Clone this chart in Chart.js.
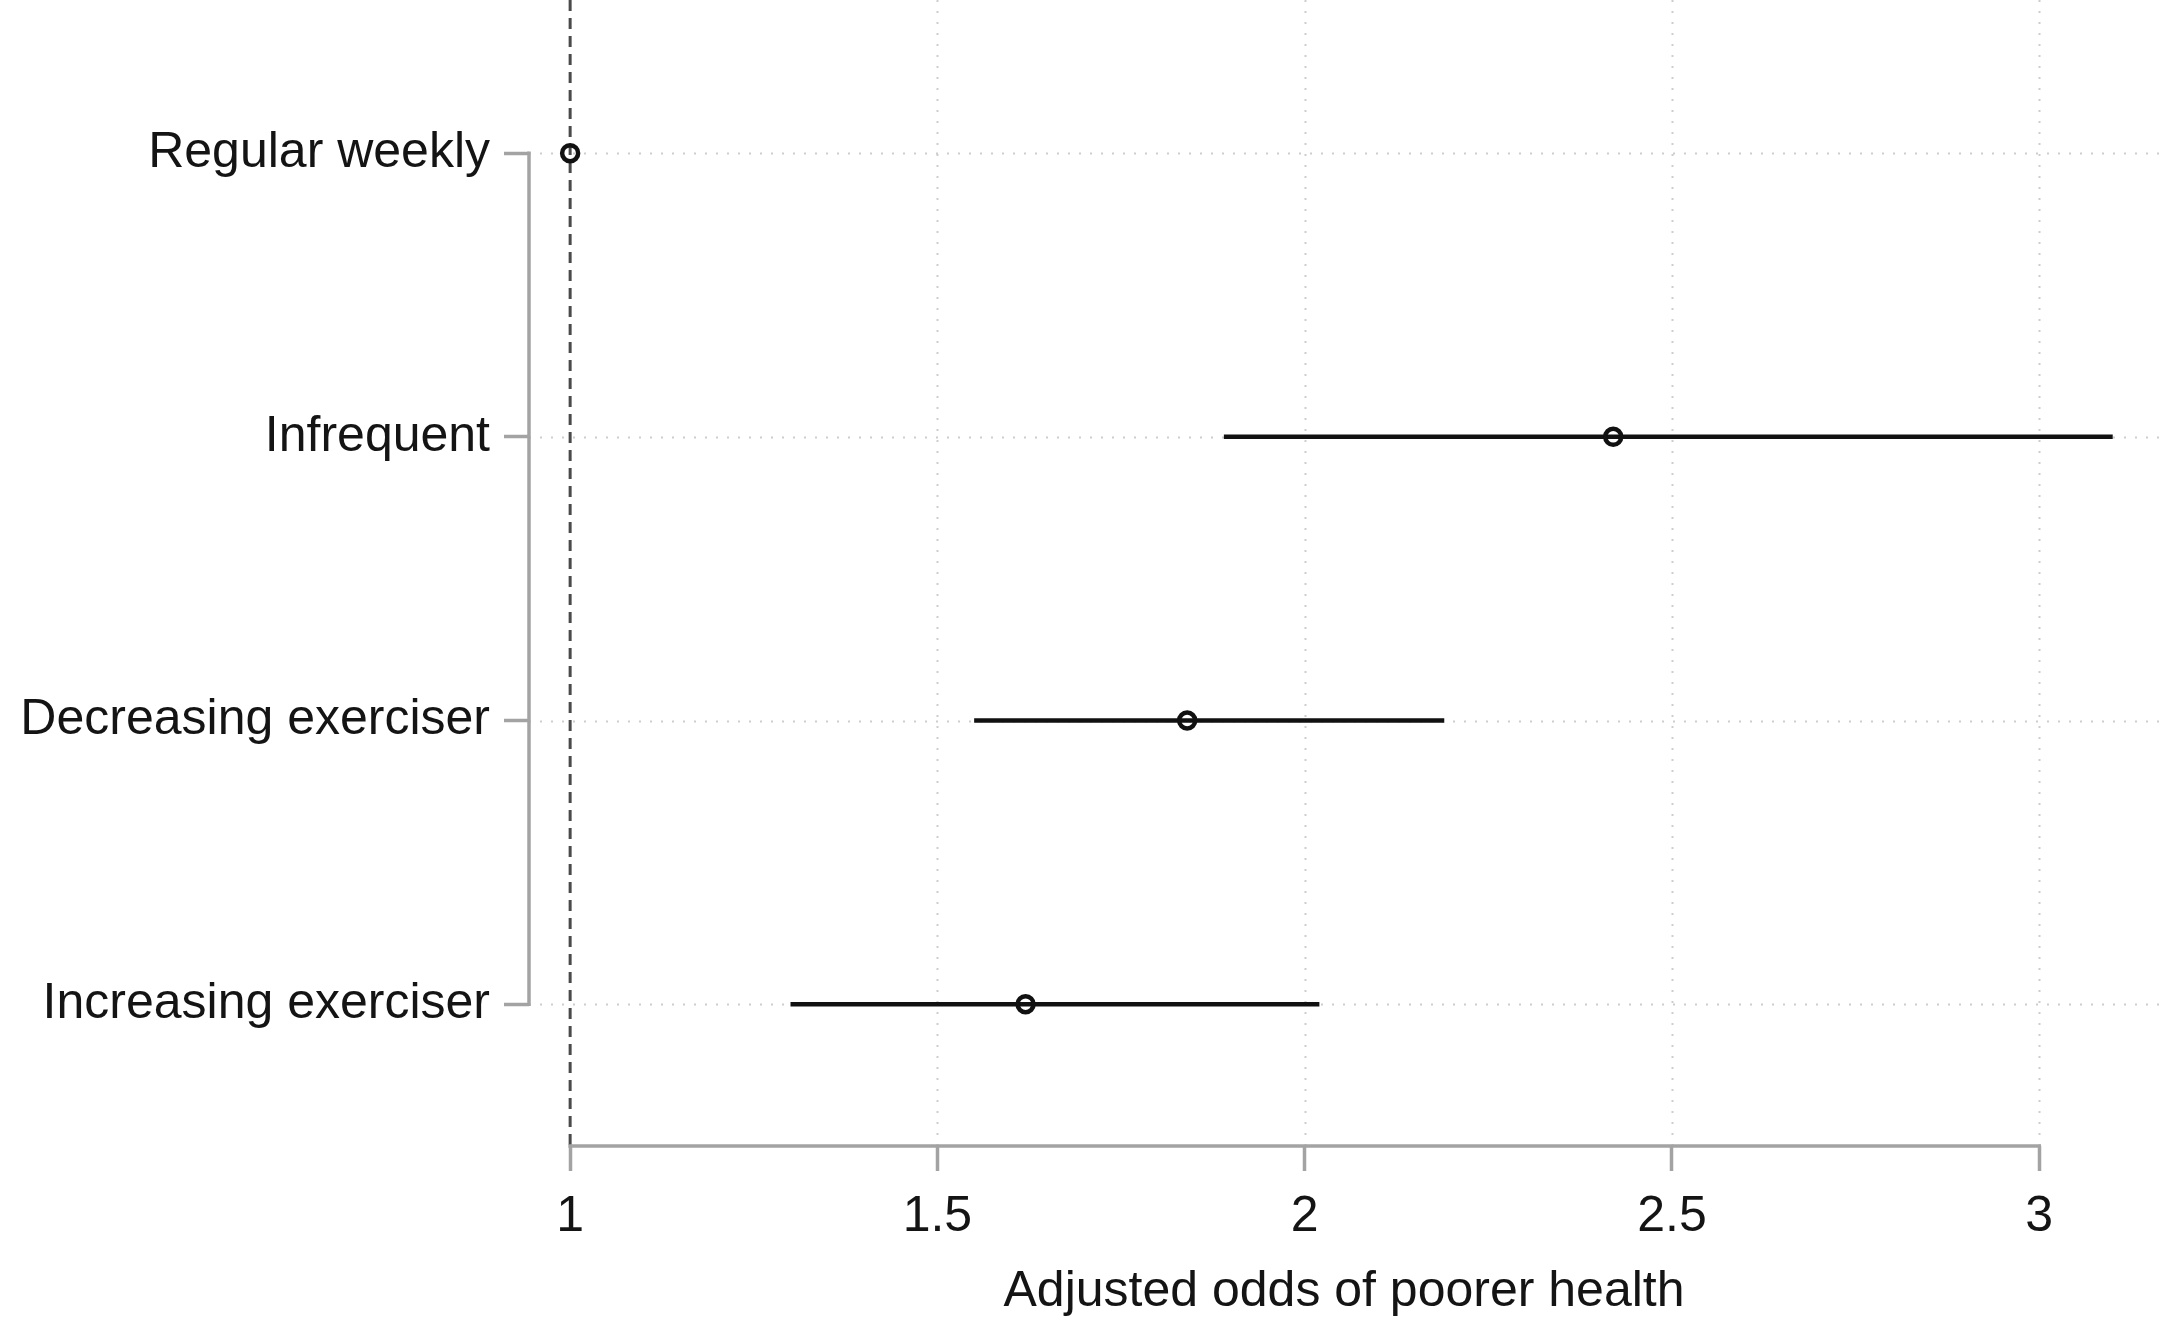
<!DOCTYPE html>
<html>
<head>
<meta charset="utf-8">
<script src="https://cdn.jsdelivr.net/npm/chart.js@4.4.1/dist/chart.umd.min.js"></script>
<style>
  html, body { margin: 0; padding: 0; background: #ffffff; }
  #wrap { width: 2159px; height: 1321px; }
</style>
</head>
<body>
<div id="wrap"><canvas id="c" width="2159" height="1321"></canvas></div>
<script>
// ---- Data ----
const categories = ['Regular weekly', 'Infrequent', 'Decreasing exerciser', 'Increasing exerciser'];
const estimates  = [1.00, 2.42, 1.84, 1.62];
const lowerCI    = [null, 1.89, 1.55, 1.30];
const upperCI    = [null, 3.10, 2.19, 2.02];
const xTickValues = [1, 1.5, 2, 2.5, 3];
const xTickLabels = ['1', '1.5', '2', '2.5', '3'];
const referenceValue = 1;
const xAxisTitle = 'Adjusted odds of poorer health';

// ---- Styling / layout ----
const FONT = "'Liberation Sans', Arial, sans-serif";
const AXIS_GREY = '#a3a3a3';
const GRID_GREY = '#cdcdcd';
const TEXT = '#141414';

const rowPos = categories.map((c, i) => i + 1);

const datasets = [];
categories.forEach((c, i) => {
  if (lowerCI[i] !== null && upperCI[i] !== null) {
    datasets.push({
      type: 'line',
      data: [{x: lowerCI[i], y: rowPos[i]}, {x: upperCI[i], y: rowPos[i]}],
      borderColor: '#111111',
      borderWidth: 4.5,
      pointRadius: 0,
      fill: false,
      order: 2
    });
  }
});
datasets.push({
  type: 'scatter',
  data: estimates.map((v, i) => ({x: v, y: rowPos[i]})),
  pointStyle: 'circle',
  pointRadius: 8,
  pointBorderWidth: 4.5,
  borderColor: '#111111',
  backgroundColor: 'rgba(0,0,0,0)',
  pointBackgroundColor: 'rgba(0,0,0,0)',
  pointBorderColor: '#111111',
  order: 1
});

const decorPlugin = {
  id: 'decor',
  beforeDatasetsDraw(chart) {
    const {ctx, chartArea: a, scales: {x, y}} = chart;
    ctx.save();
    // dotted vertical grid
    ctx.strokeStyle = GRID_GREY;
    ctx.lineWidth = 2;
    ctx.setLineDash([2, 9]);
    xTickValues.forEach(v => {
      if (v === referenceValue) return;
      const px = Math.round(x.getPixelForValue(v)) + 0.5;
      ctx.beginPath(); ctx.moveTo(px, a.top); ctx.lineTo(px, a.bottom); ctx.stroke();
    });
    // dotted horizontal lines at rows
    rowPos.forEach(r => {
      const py = Math.round(y.getPixelForValue(r)) + 0.5;
      ctx.beginPath(); ctx.moveTo(a.left, py); ctx.lineTo(a.right, py); ctx.stroke();
    });
    // reference dashed line
    ctx.strokeStyle = '#4a4a4a';
    ctx.lineWidth = 3;
    ctx.setLineDash([11, 7]);
    const rx = x.getPixelForValue(referenceValue);
    ctx.beginPath(); ctx.moveTo(rx, a.top); ctx.lineTo(rx, a.bottom); ctx.stroke();
    // axis lines (Stata style, spanning tick range)
    ctx.setLineDash([]);
    ctx.strokeStyle = AXIS_GREY;
    ctx.lineWidth = 3.5;
    const x0 = x.getPixelForValue(xTickValues[0]) - 1.75;
    const x1 = x.getPixelForValue(xTickValues[xTickValues.length - 1]) + 1.75;
    ctx.beginPath(); ctx.moveTo(x0, a.bottom); ctx.lineTo(x1, a.bottom); ctx.stroke();
    const y0 = y.getPixelForValue(rowPos[0]) - 1.75;
    const y1 = y.getPixelForValue(rowPos[rowPos.length - 1]) + 1.75;
    ctx.beginPath(); ctx.moveTo(a.left, y0); ctx.lineTo(a.left, y1); ctx.stroke();
    ctx.restore();
  }
};

new Chart(document.getElementById('c'), {
  data: { datasets },
  options: {
    responsive: false,
    devicePixelRatio: 1,
    animation: false,
    layout: { padding: 0, autoPadding: false },
    plugins: { legend: { display: false }, tooltip: { enabled: false }, title: { display: false } },
    scales: {
      x: {
        type: 'linear',
        min: 0.944,
        max: 3.163,
        afterBuildTicks(scale) { scale.ticks = xTickValues.map(v => ({value: v})); },
        afterFit(scale) {
          scale.height = 175;
          scale.paddingLeft = 0; scale.paddingRight = 0;
          scale.paddingTop = 0; scale.paddingBottom = 0;
        },
        ticks: {
          callback(v) { const i = xTickValues.indexOf(v); return i >= 0 ? xTickLabels[i] : ''; },
          font: { family: FONT, size: 50 },
          color: TEXT,
          padding: 16,
          maxRotation: 0,
          autoSkip: false
        },
        grid: {
          drawOnChartArea: false,
          drawTicks: true,
          tickLength: 25,
          tickColor: AXIS_GREY,
          tickWidth: 3.5
        },
        border: { display: false },
        title: {
          display: true,
          text: xAxisTitle,
          font: { family: FONT, size: 50 },
          color: TEXT,
          padding: { top: 10, bottom: -1 }
        }
      },
      y: {
        type: 'linear',
        reverse: true,
        min: 0.46,
        max: 4.5,
        afterBuildTicks(scale) { scale.ticks = rowPos.map(v => ({value: v})); },
        afterFit(scale) {
          scale.width = 529;
          scale.paddingTop = 0; scale.paddingBottom = 0;
          scale.paddingLeft = 0; scale.paddingRight = 0;
        },
        ticks: {
          callback(v) { const i = rowPos.indexOf(v); return i >= 0 ? categories[i] : ''; },
          font: { family: FONT, size: 50 },
          color: TEXT,
          padding: 14,
          autoSkip: false
        },
        grid: {
          drawOnChartArea: false,
          drawTicks: true,
          tickLength: 25,
          tickColor: AXIS_GREY,
          tickWidth: 3.5
        },
        border: { display: false }
      }
    }
  },
  plugins: [decorPlugin]
});
</script>
</body>
</html>
